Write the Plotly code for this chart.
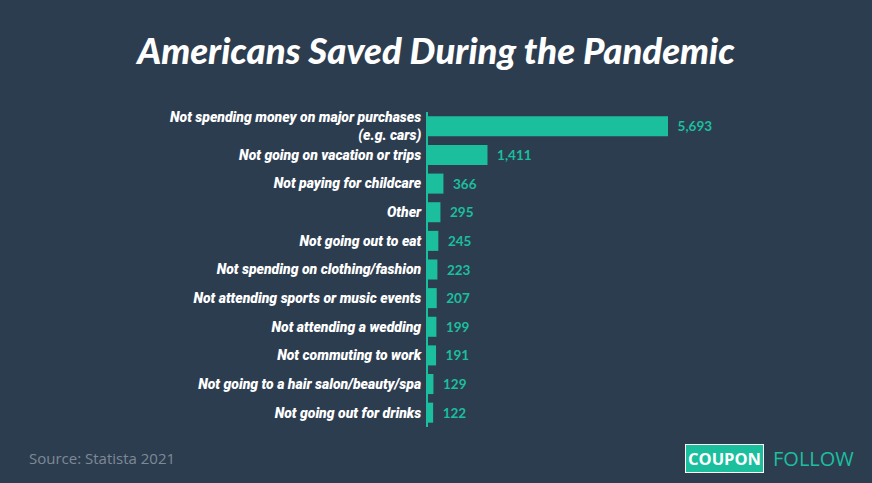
import plotly.graph_objects as go

# Savings categories and values (top to bottom as in the reference)
categories = [
    'Not spending money on major purchases<br>(e.g. cars)',
    'Not going on vacation or trips',
    'Not paying for childcare',
    'Other',
    'Not going out to eat',
    'Not spending on clothing/fashion',
    'Not attending sports or music events',
    'Not attending a wedding',
    'Not commuting to work',
    'Not going to a hair salon/beauty/spa',
    'Not going out for drinks',
]
values = [5693, 1411, 366, 295, 245, 223, 207, 199, 191, 129, 122]

bg = '#2d3d50'
teal = '#1bbf9e'
heavy = 'Lato Black, Lato'

fig = go.Figure(go.Bar(
    x=values, y=categories, orientation='h',
    marker=dict(color=teal, line=dict(width=0)),
    texttemplate='  %{x:,}', textposition='outside', cliponaxis=False,
    textfont=dict(family='Lato', size=13.5, color=teal, weight='bold'),
    hoverinfo='skip',
))

fig.update_layout(
    width=872, height=483,
    paper_bgcolor=bg, plot_bgcolor=bg,
    margin=dict(l=428, r=112, t=112, b=56),
    bargap=0.3,
    showlegend=False,
    title=dict(
        text='Americans Saved During the Pandemic',
        x=0.5, xref='container', xanchor='center',
        y=0.894, yanchor='middle',
        font=dict(family=heavy, size=36.5, color='white', weight=900, style='italic'),
    ),
    xaxis=dict(range=[0, 7875], visible=False, fixedrange=True),
    yaxis=dict(
        autorange='reversed', showline=True, linecolor=teal, linewidth=2,
        showgrid=False, ticks='', ticklabelstandoff=2, fixedrange=True,
        tickfont=dict(family='Roboto', size=14, color='white', weight=900, style='italic'),
    ),
)

# Footer: source and logo
fig.add_annotation(
    text='Source: Statista 2021', xref='paper', yref='paper',
    x=(27 - 428) / 332, y=-31 / 315, xanchor='left', yanchor='middle',
    showarrow=False, font=dict(family='Open Sans', size=15, color='#7d8a96'),
)
fig.add_annotation(
    text='<b>COUPON</b>', xref='paper', yref='paper',
    x=(724 - 428) / 332, y=-31 / 315, xanchor='center', yanchor='middle',
    showarrow=False, bgcolor=teal, bordercolor='white', borderwidth=1, borderpad=2,
    font=dict(family='Open Sans', size=16.5, color='white'),
)
fig.add_annotation(
    text='FOLLOW', xref='paper', yref='paper',
    x=(771 - 428) / 332, y=-31 / 315, xanchor='left', yanchor='middle',
    showarrow=False, font=dict(family='Open Sans', size=20, color=teal),
)

# remove the default page margin so the figure fills the window
fig.write_html('out.html', config={'displayModeBar': False},
               post_script="document.body.style.margin='0';")
